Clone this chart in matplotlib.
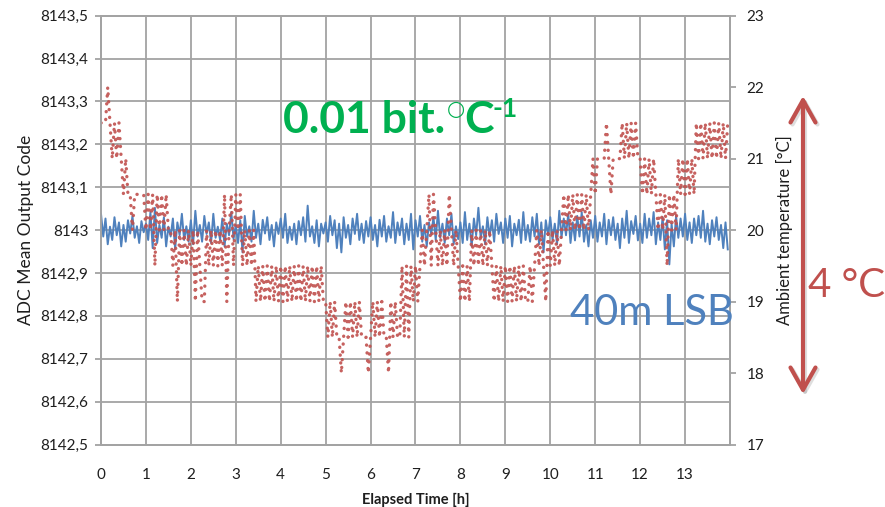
"""ADC mean output code vs ambient temperature over elapsed time"""

import numpy as np
from matplotlib import pyplot as plt
from matplotlib import patches

plt.rcParams['font.family'] = ['Lato', 'DejaVu Sans']

# sampling grid of both series (hours)
elapsed_h = np.arange(0, 14, 0.05)

# ADC mean output code, one row per hour
adc_code = [
    8143.038, 8142.985, 8143.027, 8142.967, 8143.008, 8142.977, 8143.030, 8142.988, 8143.018, 8142.962,
    8143.012, 8142.973, 8143.023, 8142.992, 8143.033, 8142.982, 8143.009, 8142.970, 8143.021, 8142.995,
    8143.015, 8142.977, 8143.042, 8142.958, 8143.052, 8142.970, 8143.012, 8142.982, 8143.030, 8142.962,
    8143.008, 8142.985, 8143.027, 8142.955, 8143.018, 8142.988, 8143.038, 8142.977, 8143.009, 8142.973,
    8143.023, 8142.967, 8143.045, 8142.985, 8143.012, 8142.973, 8143.033, 8142.991, 8143.018, 8142.970,
    8143.038, 8142.982, 8143.008, 8142.977, 8143.027, 8142.962, 8143.015, 8142.988, 8143.042, 8142.979,
    8143.012, 8142.970, 8143.023, 8142.948, 8143.033, 8142.985, 8143.009, 8142.973, 8143.045, 8142.982,
    8143.015, 8142.967, 8143.024, 8142.992, 8143.030, 8142.977, 8143.012, 8142.962, 8143.018, 8142.991,
    8143.027, 8142.982, 8143.038, 8142.970, 8143.008, 8142.977, 8143.015, 8142.967, 8143.021, 8142.988,
    8143.030, 8142.973, 8143.057, 8142.985, 8143.009, 8142.970, 8143.023, 8142.962, 8143.015, 8142.992,
    8143.018, 8142.973, 8143.033, 8142.988, 8143.023, 8142.958, 8143.015, 8142.948, 8143.030, 8142.982,
    8143.012, 8142.967, 8143.027, 8142.991, 8143.038, 8142.977, 8143.015, 8142.970, 8143.021, 8142.985,
    8143.030, 8142.977, 8143.012, 8142.962, 8143.024, 8142.985, 8143.033, 8142.973, 8143.009, 8142.982,
    8143.042, 8142.970, 8143.018, 8142.988, 8143.027, 8142.967, 8143.015, 8142.977, 8143.038, 8142.955,
    8143.023, 8142.985, 8143.033, 8142.973, 8143.012, 8142.962, 8143.018, 8142.991, 8143.030, 8142.977,
    8143.045, 8142.982, 8143.015, 8142.970, 8143.027, 8142.988, 8143.038, 8142.967, 8143.009, 8142.979,
    8143.018, 8142.970, 8143.042, 8142.977, 8143.015, 8142.962, 8143.027, 8142.988, 8143.052, 8142.982,
    8143.009, 8142.967, 8143.030, 8142.985, 8143.023, 8142.973, 8143.038, 8142.991, 8143.018, 8142.970,
    8143.027, 8142.982, 8143.033, 8142.962, 8143.015, 8142.988, 8143.024, 8142.970, 8143.042, 8142.977,
    8143.012, 8142.973, 8143.030, 8142.985, 8143.038, 8142.967, 8143.018, 8142.948, 8143.023, 8142.988,
    8143.030, 8142.977, 8143.015, 8142.967, 8143.045, 8142.982, 8143.027, 8142.988, 8143.038, 8142.970,
    8143.018, 8142.976, 8143.033, 8142.985, 8143.042, 8142.973, 8143.012, 8142.962, 8143.023, 8142.982,
    8143.033, 8142.973, 8143.018, 8142.985, 8143.038, 8142.967, 8143.024, 8142.988, 8143.030, 8142.977,
    8143.015, 8142.958, 8143.027, 8142.982, 8143.045, 8142.970, 8143.021, 8142.991, 8143.033, 8142.976,
    8143.015, 8142.970, 8143.038, 8142.982, 8143.027, 8142.988, 8143.042, 8142.967, 8143.018, 8142.977,
    8143.030, 8142.955, 8143.023, 8142.920, 8143.015, 8142.962, 8143.033, 8142.982, 8143.027, 8142.985,
    8143.038, 8142.977, 8143.018, 8142.970, 8143.027, 8142.988, 8143.033, 8142.982, 8143.045, 8142.973,
    8143.015, 8142.967, 8143.023, 8142.985, 8143.030, 8142.977, 8143.012, 8142.958, 8143.018, 8142.955,
]

# ambient temperature in degC, one row per hour
ambient_c = [
    21.5, 21.5, 21.5, 22.0, 21.5, 21.0, 21.5, 21.0, 21.5, 21.0, 20.5, 21.0, 20.5, 20.5, 20.0, 20.5, 20.5, 20.5, 20.5, 20.5,
    20.0, 20.5, 20.0, 20.5, 19.5, 20.5, 20.0, 20.5, 20.0, 20.5, 20.0, 20.0, 19.5, 20.0, 19.0, 20.0, 19.5, 20.0, 19.5, 20.0,
    19.5, 20.0, 19.0, 20.0, 19.5, 19.0, 19.0, 20.0, 19.5, 20.0, 19.5, 20.0, 19.5, 20.0, 19.5, 20.5, 19.0, 20.0, 20.5, 19.5,
    20.5, 20.0, 20.5, 19.5, 20.0, 19.5, 20.0, 19.5, 20.0, 19.0, 19.5, 19.0, 19.5, 19.0, 19.5, 19.0, 19.5, 19.0, 19.5, 19.0,
    19.5, 19.0, 19.5, 19.0, 19.5, 19.0, 19.5, 19.0, 19.5, 19.0, 19.5, 19.0, 19.5, 19.0, 19.5, 19.0, 19.5, 19.0, 19.5, 19.0,
    19.0, 18.5, 19.0, 18.5, 19.0, 18.5, 18.5, 18.0, 18.5, 19.0, 18.5, 19.0, 18.5, 19.0, 18.5, 19.0, 18.5, 18.5, 18.5, 18.0,
    18.5, 19.0, 18.5, 19.0, 18.5, 19.0, 18.5, 18.5, 18.0, 19.0, 18.5, 19.0, 18.5, 18.5, 19.5, 18.5, 19.5, 18.5, 19.5, 19.0,
    19.5, 19.0, 19.5, 20.0, 19.5, 20.0, 20.5, 19.5, 20.5, 20.0, 19.5, 20.0, 19.5, 20.0, 19.5, 20.5, 20.0, 19.5, 20.0, 19.5,
    19.0, 19.5, 19.0, 19.5, 19.0, 20.0, 19.5, 20.0, 19.5, 20.0, 19.5, 20.0, 19.5, 20.0, 19.5, 19.0, 19.5, 19.0, 19.5, 19.0,
    19.5, 19.0, 19.5, 19.0, 19.5, 19.0, 19.5, 19.0, 19.5, 19.0, 19.0, 19.5, 19.0, 19.5, 20.0, 19.5, 20.0, 19.5, 19.0, 20.0,
    19.5, 20.0, 19.5, 20.0, 19.5, 20.0, 20.5, 20.0, 20.5, 20.0, 20.5, 20.0, 20.5, 20.0, 20.5, 20.0, 20.5, 20.0, 20.5, 21.0,
    20.5, 21.0, 21.0, 21.0, 21.0, 21.5, 21.0, 20.5, 21.0, 21.0, 21.0, 21.0, 21.5, 21.0, 21.5, 21.0, 21.5, 21.0, 21.5, 21.0,
    21.0, 20.5, 21.0, 20.5, 21.0, 20.5, 21.0, 20.5, 20.0, 20.5, 20.0, 20.5, 19.5, 20.5, 20.0, 20.5, 20.0, 21.0, 20.5, 21.0,
    20.5, 21.0, 20.5, 21.0, 20.5, 21.5, 21.0, 21.5, 21.0, 21.5, 21.0, 21.5, 21.0, 21.5, 21.0, 21.5, 21.0, 21.5, 21.0, 21.5,
]

hour_ticks = list(range(15))
hour_labels = [str(h) for h in range(14)] + ['']
adc_ticks = [8142.5, 8142.6, 8142.7, 8142.8, 8142.9, 8143.0, 8143.1, 8143.2, 8143.3, 8143.4, 8143.5]
adc_labels = ['8142,5', '8142,6', '8142,7', '8142,8', '8142,9', '8143',
              '8143,1', '8143,2', '8143,3', '8143,4', '8143,5']
temp_ticks = [17, 18, 19, 20, 21, 22, 23]

grid_c = '#a3a3a3'
text_c = '#1e1e1e'
green = '#00b050'

if __name__ == "__main__":
    W, H = 885, 507
    fig = plt.figure(figsize=(W / 100, H / 100), dpi=100)
    ax = fig.add_axes([101 / W, 1 - 444.5 / H, 629 / W, 428.8 / H])
    ax2 = ax.twinx()

    ax.plot(elapsed_h, adc_code, color='#4f81bd', lw=1.4, zorder=3)
    ax2.plot(elapsed_h, ambient_c, color='#c0504d', lw=2.4,
             linestyle=(0, (0.05, 2.3)), dash_capstyle='round', alpha=0.9)

    ax.set_xlim(0, 14)
    ax.set_ylim(8142.5, 8143.5)
    ax2.set_ylim(17, 23)

    ax.set_xticks(hour_ticks, hour_labels)
    ax.set_yticks(adc_ticks, adc_labels)
    ax2.set_yticks(temp_ticks, [str(t) for t in temp_ticks])

    ax.grid(True, color=grid_c, lw=1.3)
    ax.set_axisbelow(True)
    for a in (ax, ax2):
        for s in a.spines.values():
            s.set_color(grid_c)
            s.set_linewidth(1.3)
    ax.tick_params(axis='x', length=0, pad=17, labelsize=11, labelcolor=text_c)
    ax.tick_params(axis='y', length=4, width=1.3, color=grid_c, pad=5,
                   labelsize=11, labelcolor=text_c)
    ax2.tick_params(axis='y', length=4, width=1.3, color=grid_c, pad=8,
                    labelsize=11, labelcolor=text_c)

    ax.set_xlabel('Elapsed Time [h]', fontsize=10.5, fontweight='bold',
                  color=text_c, labelpad=8)
    ax.set_ylabel('ADC Mean Output Code', fontsize=12.5, color=text_c, labelpad=5)
    ax2.set_ylabel('Ambient temperature [°C]', fontsize=12, color=text_c, labelpad=8)

    # slide annotations laid over the chart
    fig.text(283 / W, 1 - 133 / H, '0.01 bit.', color=green, fontsize=32,
             fontweight='bold', va='baseline')
    fig.text(456 / W, 1 - 109 / H, '○', color=green, fontsize=15, fontweight='bold',
             ha='center', va='center', family='DejaVu Sans')
    fig.text(464 / W, 1 - 133 / H, 'C', color=green, fontsize=32,
             fontweight='bold', va='baseline')
    fig.text(493 / W, 1 - 117 / H, '-1', color=green, fontsize=19,
             fontweight='bold', va='baseline')
    fig.text(570 / W, 1 - 325 / H, '40m LSB', color='#4f81bd', fontsize=30,
             va='baseline')
    fig.text(808 / W, 1 - 297 / H, '4 °C', color='#c0504d', fontsize=29,
             va='baseline')

    # double arrow with a faint drop shadow behind it
    for dx, col, alpha in ((2, '#7f7f7f', 0.25), (0, '#c0504d', 1.0)):
        fig.patches.append(patches.FancyArrowPatch(
            ((803 + dx) / W, 1 - (394 + dx) / H), ((803 + dx) / W, 1 - (96 + dx) / H),
            transform=fig.transFigure,
            arrowstyle='<->,head_length=0.8,head_width=0.45', mutation_scale=20,
            color=col, alpha=alpha, lw=3, shrinkA=0, shrinkB=0))

    plt.savefig('out.png', dpi=100)
